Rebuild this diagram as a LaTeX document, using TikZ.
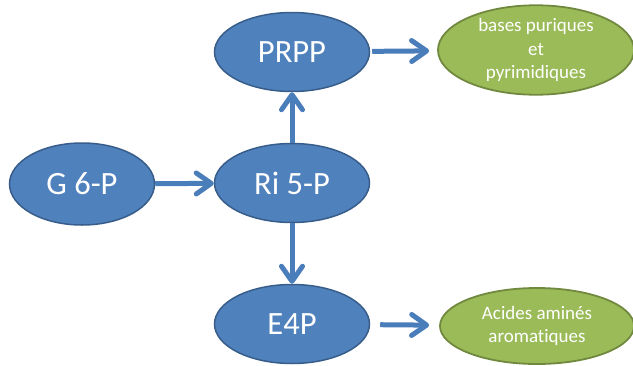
\documentclass[tikz,border=0pt]{standalone}
\usepackage{fontspec}
\setmainfont{Carlito}[Ligatures=NoCommon]
\usetikzlibrary{shapes.geometric,arrows.meta}

\definecolor{bleu}{HTML}{4F81BD}
\definecolor{bleufonce}{HTML}{385D8A}
\definecolor{vert}{HTML}{9BBB59}
\definecolor{vertfonce}{HTML}{71893F}
\definecolor{fleche}{HTML}{4A7EBB}

\tikzset{
  metabolite/.style={ellipse, draw=bleufonce, line width=1.5pt, fill=bleu,
    text=white, minimum width=155pt, minimum height=79pt, inner sep=0pt,
    font=\fontsize{32.5}{36}\selectfont},
  produit/.style={ellipse, draw=vertfonce, line width=1.8pt, fill=vert,
    text=white, inner sep=0pt, align=center,
    font=\fontsize{19}{23.5}\selectfont},
  voie/.style={draw=fleche, line width=5pt,
    -{Straight Barb[length=15pt,width=21pt,line cap=round,line join=round]}}
}

\begin{document}
\begin{tikzpicture}[x=1pt,y=-1pt]
	\useasboundingbox (0,0) rectangle (633,365);
	% les metabolites
	\node[metabolite, minimum width=145pt, minimum height=82pt] (g6p) at (82,184) {G 6-P};
	\node[metabolite] (ri5p) at (292,183) {Ri 5-P};
	\node[metabolite] (prpp) at (292,52) {PRPP};
	\node[metabolite] (e4p) at (292,324) {E4P};
	% les produits
	\node[produit, minimum width=196pt, minimum height=88pt] (bases) at (536,50)
		{bases puriques\\et\\pyrimidiques};
	\node[produit, minimum width=194pt, minimum height=76pt] (acides) at (537,326)
		{Acides aminés\\aromatiques};
	% les fleches
	\draw[voie] (g6p) -- (ri5p);
	\draw[voie] (ri5p) -- (prpp);
	\draw[voie] (ri5p) -- (e4p);
	\draw[voie, shorten <=2pt, shorten >=8pt] (prpp) -- (bases);
	\draw[voie, shorten <=10pt, shorten >=10pt] (e4p) -- (acides);
\end{tikzpicture}
\end{document}
